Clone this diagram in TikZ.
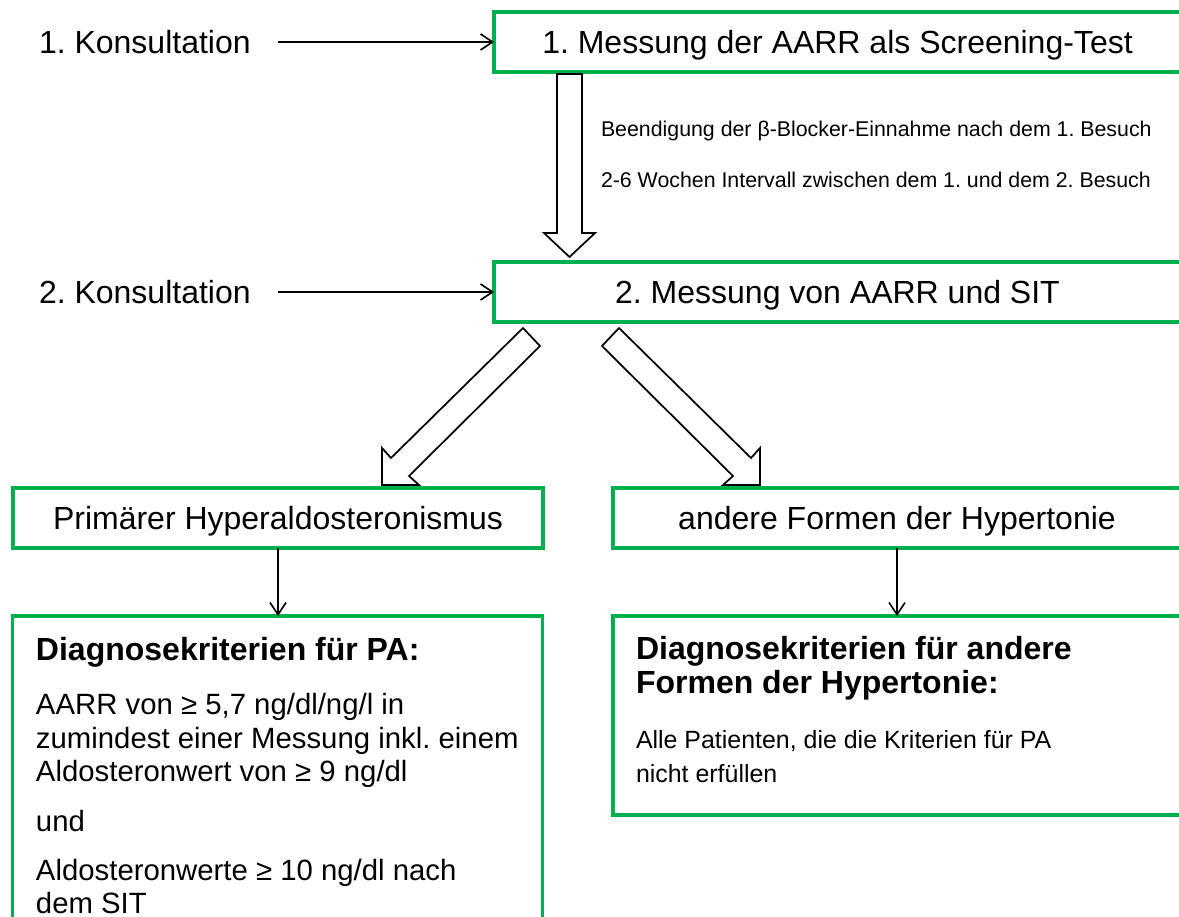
\documentclass[tikz,border=0pt]{standalone}
\usepackage{fontspec}
\setmainfont{Liberation Sans}
\usetikzlibrary{arrows.meta}
\definecolor{boxgreen}{HTML}{00B050}
\newcommand\fsbig{\fontsize{24pt}{27.6pt}\selectfont}
\newcommand\fsbody{\fontsize{22pt}{25.3pt}\selectfont}
\newcommand\fsbodyb{\fontsize{18.7pt}{21.5pt}\selectfont}
\newcommand\fssmall{\fontsize{16pt}{18.4pt}\selectfont}
\frenchspacing
\begin{document}
\frenchspacing
\begin{tikzpicture}[x=0.75pt,y=-0.75pt,
  gbox/.style={draw=boxgreen, line width=2.6pt, fill=white, inner sep=0pt, outer sep=0pt,
    font=\fsbig, text height=17.2pt, text depth=0pt},
  conn/.style={draw=black, line width=1.2pt,
    -{Straight Barb[length=9pt,width=12pt,line width=1.2pt]}},
  blockarrow/.style={draw=black, line width=1.3pt, fill=white, line join=miter},
  lbl/.style={inner sep=0pt, outer sep=0pt, anchor=base west}]
\useasboundingbox (0,0) rectangle (1179,917);
\clip (0,0) rectangle (1179,917);

% boxes
\node[gbox, minimum width=515.25pt, minimum height=45pt] (m1) at (837.5,42) {1. Messung der AARR als Screening-Test};
\node[gbox, minimum width=515.25pt, minimum height=45pt] (m2) at (837.5,292) {2. Messung von AARR und SIT};
\node[gbox, minimum width=397.5pt, minimum height=45pt] (m3) at (278,518) {Primärer Hyperaldosteronismus};
\node[gbox, minimum width=426pt, minimum height=45pt] (m4) at (897,518) {andere Formen der Hypertonie};
\node[gbox, minimum width=397.5pt, minimum height=231.75pt] (m5) at (277.5,770.5) {};
\node[gbox, minimum width=426pt, minimum height=149.25pt] (m6) at (897,715.5) {};

% left labels
\node[lbl, font=\fsbig] (k1) at (39,53.5) {1. Konsultation};
\node[lbl, font=\fsbig] (k2) at (39,303.5) {2. Konsultation};
\coordinate (k1s) at (278,42);
\coordinate (k2s) at (278,292);
\draw[conn] (k1s) -- (m1.west);
\draw[conn] (k2s) -- (m2.west);

% block arrows
\draw[blockarrow] (557,74) -- (557,233) -- (544,233) -- (569.5,257) -- (595,233) -- (582,233) -- (582,74) -- cycle;
\draw[blockarrow] (619,328) -- (751,458) -- (760,448) -- (760,485) -- (723,485) -- (733,476) -- (602,346) -- cycle;
\draw[blockarrow] (523,328) -- (391,458) -- (382,448) -- (382,485) -- (419,485) -- (409,476) -- (540,346) -- cycle;

% notes beside the arrow
\node[lbl, font=\fssmall] (t1) at (601,137) {Beendigung der β-Blocker-Einnahme nach dem 1. Besuch};
\node[lbl, font=\fssmall] (t2) at (601,187) {2-6 Wochen Intervall zwischen dem 1. und dem 2. Besuch};

% small arrows
\draw[conn] (m3.south) -- (m3.south |- m5.north);
\draw[conn] (m4.south) -- (m4.south |- m6.north);

% text of box 5
\node[lbl, font=\fsbig\bfseries] (p0) at (36,660) {Diagnosekriterien für PA:};
\node[lbl, font=\fsbody] (p1) at (36,714) {AARR von ≥ 5,7 ng/dl/ng/l in};
\node[lbl, font=\fsbody] (p2) at (36,748) {zumindest einer Messung inkl. einem};
\node[lbl, font=\fsbody] (p3) at (36,781) {Aldosteronwert von ≥ 9 ng/dl};
\node[lbl, font=\fsbody] (p4) at (36,831) {und};
\node[lbl, font=\fsbody] (p5) at (36,880) {Aldosteronwerte ≥ 10 ng/dl nach};
\node[lbl, font=\fsbody] (p6) at (36,913) {dem SIT};

% text of box 6
\node[lbl, font=\fsbig\bfseries] (q0) at (636,659) {Diagnosekriterien für andere};
\node[lbl, font=\fsbig\bfseries] (q1) at (636,693) {Formen der Hypertonie:};
\node[lbl, font=\fsbodyb] (q2) at (636,748) {Alle Patienten, die die Kriterien für PA};
\node[lbl, font=\fsbodyb] (q3) at (636,782) {nicht erfüllen};
\end{tikzpicture}
\end{document}
